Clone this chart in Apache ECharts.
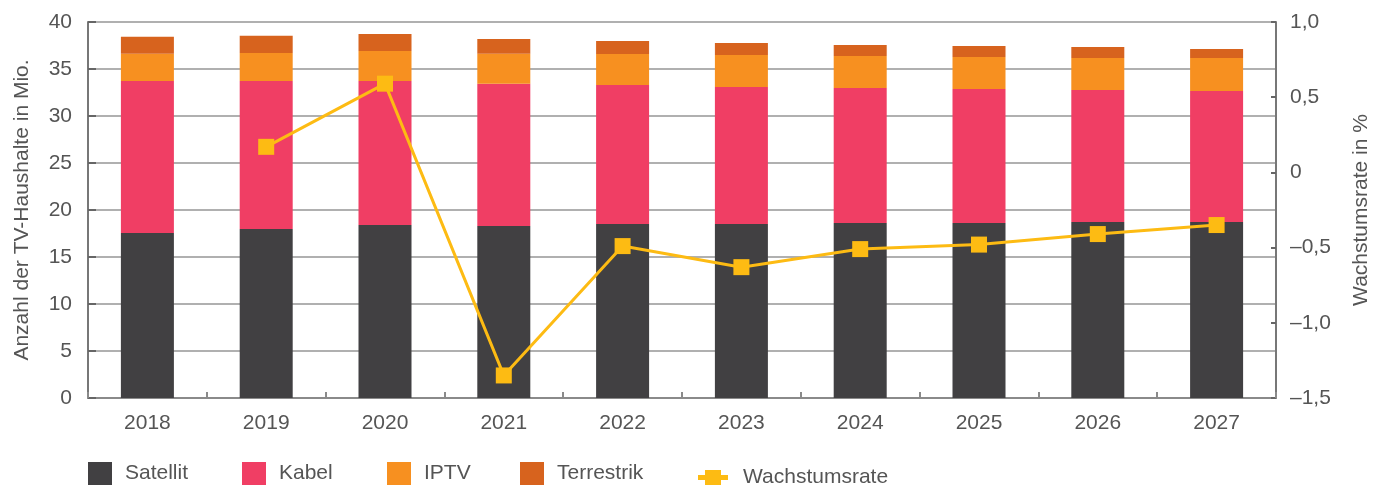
<!DOCTYPE html>
<html>
<head>
<meta charset="utf-8">
<script src="https://cdn.jsdelivr.net/npm/echarts@6/dist/echarts.min.js"></script>
<style>
html,body{margin:0;padding:0;background:#fff;overflow:hidden;width:1380px;height:485px;}
#chart{width:1380px;height:485px;}
</style>
</head>
<body>
<div id="chart"></div>
<script>
const categories = ['2018','2019','2020','2021','2022','2023','2024','2025','2026','2027'];
const satellit   = [17.55, 17.98, 18.40, 18.30, 18.51, 18.51, 18.62, 18.62, 18.72, 18.72];
const kabel      = [16.17, 15.74, 15.32, 15.14, 14.79, 14.58, 14.36, 14.25, 14.05, 13.94];
const iptv       = [2.91, 2.98, 3.19, 3.19, 3.30, 3.40, 3.40, 3.41, 3.40, 3.51];
const terrestrik = [1.81, 1.84, 1.81, 1.56, 1.38, 1.28, 1.17, 1.17, 1.17, 0.96];
const wachstum   = [null, 0.17, 0.59, -1.35, -0.49, -0.63, -0.51, -0.48, -0.41, -0.35];

const FONT = '"Liberation Sans", Arial, sans-serif';
const TXT = '#555555';
const FS = 21;
const chart = echarts.init(document.getElementById('chart'), null, {renderer:'canvas', width:1380, height:485});

function fmtPct(v){
  if (v === 0) return '0';
  const s = Math.abs(v).toFixed(1).replace('.', ',');
  return (v < 0 ? '\u2013' : '') + s;
}

const legendBase = (name, left) => ({
  data:[name], left: left, top: 462, itemWidth: 24, itemHeight: 23,
  itemGap: 0, icon: 'rect', padding: 0,
  textStyle:{fontFamily:FONT, fontSize:FS, color:TXT, padding:[6,0,0,8]}
});

const lineIcon = 'path://M0,5 L7,5 L7,0 L23,0 L23,5 L30,5 L30,10 L23,10 L23,15 L7,15 L7,10 L0,10 Z';

const option = {
  animation:false,
  backgroundColor:'#ffffff',
  textStyle:{fontFamily:FONT},
  legend:[
    legendBase('Satellit', 88),
    legendBase('Kabel', 242),
    legendBase('IPTV', 387),
    legendBase('Terrestrik', 520),
    {data:[{name:'Wachstumsrate', icon:lineIcon}], left:698, top:467, itemWidth:30, itemHeight:15, itemGap:0, padding:0,
     textStyle:{fontFamily:FONT, fontSize:FS, color:TXT, padding:[0,0,0,10]}}
  ],
  grid:{left:88, right:96, top:22, bottom:87, containLabel:false},
  xAxis:{
    type:'category', data:categories, boundaryGap:true,
    axisLine:{show:true, lineStyle:{color:'#8a8a8a', width:2}},
    axisTick:{show:true, inside:true, length:6, alignWithLabel:false, lineStyle:{color:'#8a8a8a', width:2}},
    axisLabel:{fontFamily:FONT, fontSize:FS, color:TXT, margin:15},
    splitLine:{show:false}
  },
  yAxis:[
    {
      type:'value', min:0, max:40, interval:5, position:'left',
      name:'Anzahl der TV-Haushalte in Mio.', nameLocation:'middle', nameGap:55, nameRotate:90,
      nameTextStyle:{fontFamily:FONT, fontSize:FS, color:TXT},
      axisLine:{show:true, lineStyle:{color:'#777777', width:2}},
      axisTick:{show:true, inside:true, length:8, lineStyle:{color:'#666666', width:2}},
      axisLabel:{fontFamily:FONT, fontSize:FS, color:TXT, margin:16},
      splitLine:{show:true, lineStyle:{color:'#b0b0b0', width:2}}
    },
    {
      type:'value', min:-1.5, max:1.0, interval:0.5, position:'right',
      name:'Wachstumsrate in %', nameLocation:'middle', nameGap:75, nameRotate:90,
      nameTextStyle:{fontFamily:FONT, fontSize:FS, color:TXT},
      axisLine:{show:true, lineStyle:{color:'#777777', width:2}},
      axisTick:{show:true, inside:true, length:5, lineStyle:{color:'#666666', width:2}},
      axisLabel:{fontFamily:FONT, fontSize:FS, color:TXT, margin:14, formatter:fmtPct},
      splitLine:{show:false}
    }
  ],
  series:[
    {name:'Satellit', type:'bar', stack:'tv', data:satellit, barWidth:53, itemStyle:{color:'#414042'}},
    {name:'Kabel', type:'bar', stack:'tv', data:kabel, barWidth:53, itemStyle:{color:'#F03E64'}},
    {name:'IPTV', type:'bar', stack:'tv', data:iptv, barWidth:53, itemStyle:{color:'#F79020'}},
    {name:'Terrestrik', type:'bar', stack:'tv', data:terrestrik, barWidth:53, itemStyle:{color:'#D7631E'}},
    {name:'Wachstumsrate', type:'line', yAxisIndex:1, data:wachstum, connectNulls:false,
     symbol:'rect', symbolSize:16, showSymbol:true,
     lineStyle:{color:'#FDBB13', width:3}, itemStyle:{color:'#FDBB13'}, z:5}
  ]
};
chart.setOption(option);
</script>
</body>
</html>
